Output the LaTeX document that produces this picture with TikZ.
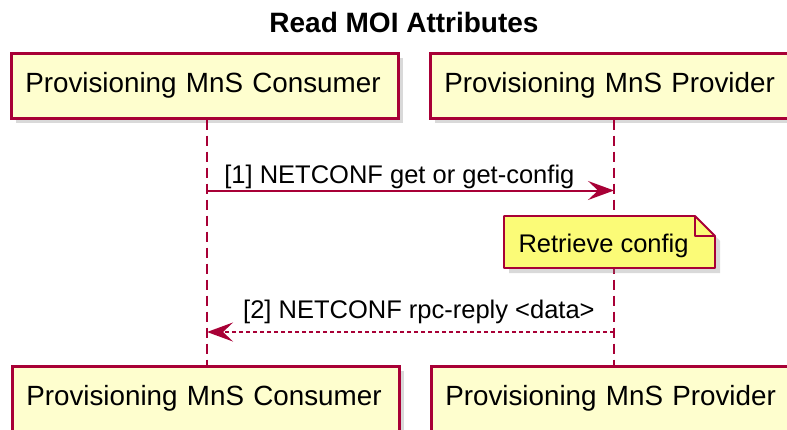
\documentclass[tikz,border=0pt]{standalone}
\usepackage{fontspec}
\setmainfont{Liberation Sans}
\usetikzlibrary{arrows.meta,shadows}
\definecolor{umlred}{HTML}{A80036}
\definecolor{umlbox}{HTML}{FEFECE}
\definecolor{umlnote}{HTML}{FBFB77}

\begin{document}
\begin{tikzpicture}[x=1pt,y=-1pt,
    actor/.style={draw=umlred,line width=2.5pt,fill=umlbox,
      drop shadow={shadow xshift=5pt,shadow yshift=-5pt,opacity=0.3},
      minimum height=65pt,text width=359pt,inner xsep=14pt,
      anchor=north west,align=left,font=\fontsize{27.8}{32}\selectfont},
    life/.style={umlred,line width=1.8pt,dash pattern=on 10pt off 6pt},
    msg/.style={umlred,line width=2pt,
      -{Stealth[length=26pt,width=19pt,inset=10pt]}},
    lbl/.style={font=\fontsize{25.5}{30}\selectfont,text=black}]
    \useasboundingbox (0,0) rectangle (787,429);
    \node[font=\bfseries\fontsize{28}{34}\selectfont] (title) at (404,22) {Read MOI Attributes};
    \node[actor] (consTop) at (10,52) {Provisioning MnS Consumer};
    \node[actor] (provTop) at (429,52) {Provisioning MnS Provider};
    \node[actor] (consBot) at (11,365) {Provisioning MnS Consumer};
    \node[actor] (provBot) at (430,365) {Provisioning MnS Provider};
    \coordinate (c1) at (207,190.5);
    \coordinate (p1) at (614,190.5);
    \coordinate (c2) at (207,332);
    \coordinate (p2) at (614,332);
    \draw[life] (consTop.south-|c1) -- (consBot.north-|c1);
    \draw[life] (provTop.south-|p1) -- (provBot.north-|p1);
    \coordinate (nNW) at (504,216);
    \coordinate (nSE) at (715,268);
    \filldraw[draw=umlred,fill=umlnote,line width=1.8pt,line join=round,
      drop shadow={shadow xshift=5pt,shadow yshift=-5pt,opacity=0.3}]
      (nNW) -- ([xshift=-20pt]nNW-|nSE) -- ([yshift=-20pt]nNW-|nSE)
      -- (nSE) -- (nSE-|nNW) -- cycle;
    \draw[umlred,line width=1.8pt,line join=round]
      ([xshift=-20pt]nNW-|nSE) |- ([yshift=-20pt]nNW-|nSE);
    \node[lbl,anchor=base west] (note) at (515,252) {Retrieve config};
    \draw[msg] (c1) -- (p1)
      node[lbl,pos=0,anchor=base west,xshift=13pt,yshift=7.5pt] (m1) {[1] NETCONF get or get-config};
    \draw[msg,dash pattern=on 4pt off 3pt] (p2) -- (c2)
      node[lbl,pos=0,anchor=base east,xshift=-15pt,yshift=14pt] (m2) {[2] NETCONF rpc-reply <data>};
\end{tikzpicture}
\end{document}
